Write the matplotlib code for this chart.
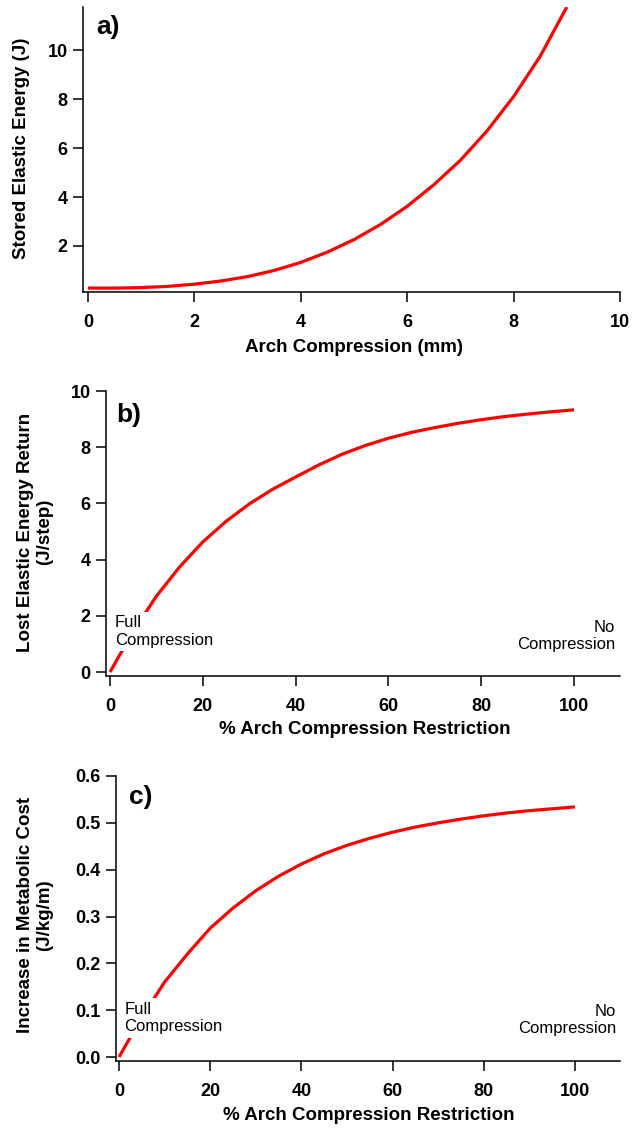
import matplotlib
matplotlib.use("Agg")
import matplotlib.pyplot as plt

plt.rcParams['font.family'] = ['Liberation Sans', 'DejaVu Sans']

# ---- data ----
comp_mm = [0, 0.5, 1, 1.5, 2, 2.5, 3, 3.5, 4, 4.5, 5, 5.5, 6, 6.5, 7, 7.5, 8, 8.5, 9]
stored_J = [0.28, 0.28, 0.30, 0.35, 0.44, 0.57, 0.75, 1.00, 1.33, 1.75, 2.26, 2.88,
            3.62, 4.50, 5.50, 6.70, 8.10, 9.75, 11.76]

restr_pct = [0, 5, 10, 15, 20, 25, 30, 35, 40, 45, 50, 55, 60, 65, 70, 75, 80, 85, 90, 95, 100]
lost_J = [0, 1.45, 2.70, 3.74, 4.63, 5.36, 5.98, 6.50, 6.94, 7.37, 7.75, 8.06, 8.32, 8.53,
          8.70, 8.85, 8.98, 9.09, 9.18, 9.26, 9.33]
metab = [0, 0.085, 0.160, 0.220, 0.275, 0.318, 0.355, 0.386, 0.412, 0.434, 0.452, 0.467,
         0.480, 0.491, 0.500, 0.508, 0.515, 0.521, 0.526, 0.530, 0.534]

a_xticks = [0, 2, 4, 6, 8, 10]
a_yticks = [2, 4, 6, 8, 10]
bc_xticks = [0, 20, 40, 60, 80, 100]
b_yticks = [0, 2, 4, 6, 8, 10]
c_yticks = [0.0, 0.1, 0.2, 0.3, 0.4, 0.5, 0.6]

W, H = 633, 1129
fig = plt.figure(figsize=(W / 100, H / 100), dpi=100)


def px_axes(l, r, t, b):
    return fig.add_axes([l / W, (H - b) / H, (r - l) / W, (b - t) / H])


def style(ax):
    for s in ['top', 'right']:
        ax.spines[s].set_visible(False)
    for s in ['left', 'bottom']:
        ax.spines[s].set_linewidth(1.1)
    ax.tick_params(axis='both', direction='out', length=7.5, width=1.1,
                   labelsize=13, colors='black')
    ax.tick_params(axis='x', pad=8)
    ax.tick_params(axis='y', pad=3.5)
    for lab in ax.get_xticklabels() + ax.get_yticklabels():
        lab.set_fontweight('bold')


RED = '#ff0000'
LW = 2.3
LBL = dict(fontsize=13.5, fontweight='bold')

# ---- panel a ----
axa = px_axes(83, 620, 7, 292)
axa.plot(comp_mm, stored_J, color=RED, lw=LW, solid_capstyle='butt')
axa.set_xlim(-0.094, 10)
axa.set_ylim(0.12, 11.76)
axa.set_xticks(a_xticks)
axa.set_yticks(a_yticks)
style(axa)
fig.text(96 / W, 1 - 27 / H, 'a)', fontsize=19, fontweight='bold', ha='left', va='center')
fig.text(354 / W, 1 - 347 / H, 'Arch Compression (mm)', ha='center', va='center', **LBL)
fig.text(22 / W, 1 - 148 / H, 'Stored Elastic Energy (J)', ha='center', va='center',
         rotation=90, **LBL)

# ---- panel b ----
axb = px_axes(106, 620, 391, 676)
axb.plot(restr_pct, lost_J, color=RED, lw=LW, solid_capstyle='butt', zorder=2)
axb.set_xlim(-0.86, 109.9)
axb.set_ylim(-0.14, 10)
axb.set_xticks(bc_xticks)
axb.set_yticks(b_yticks)
style(axb)
axb.text(1.0, 1.45, 'Full\nCompression', fontsize=12, ha='left', va='center',
         linespacing=1.2, zorder=3,
         bbox=dict(facecolor='white', edgecolor='none', pad=2.5))
axb.text(108.8, 1.28, 'No\nCompression', fontsize=12, ha='right', va='center',
         multialignment='right', linespacing=1.2, zorder=3)
fig.text(116 / W, 1 - 415 / H, 'b)', fontsize=19, fontweight='bold', ha='left', va='center')
fig.text(365 / W, 1 - 730 / H, '% Arch Compression Restriction', ha='center', va='center', **LBL)
fig.text(35 / W, 1 - 532 / H, 'Lost Elastic Energy Return\n(J/step)', ha='center',
         va='center', rotation=90, linespacing=1.15, **LBL)

# ---- panel c ----
axc = px_axes(116, 620, 776, 1061)
axc.plot(restr_pct, metab, color=RED, lw=LW, solid_capstyle='butt', zorder=2)
axc.set_xlim(-0.66, 109.9)
axc.set_ylim(-0.0085, 0.6)
axc.set_xticks(bc_xticks)
axc.set_yticks(c_yticks)
axc.set_yticklabels([f'{v:.1f}' for v in c_yticks])
style(axc)
axc.text(1.2, 0.083, 'Full\nCompression', fontsize=12, ha='left', va='center',
         linespacing=1.2, zorder=3,
         bbox=dict(facecolor='white', edgecolor='none', pad=2.5))
axc.text(109.0, 0.079, 'No\nCompression', fontsize=12, ha='right', va='center',
         multialignment='right', linespacing=1.2, zorder=3)
fig.text(129 / W, 1 - 797 / H, 'c)', fontsize=19, fontweight='bold', ha='left', va='center')
fig.text(369 / W, 1 - 1115 / H, '% Arch Compression Restriction', ha='center', va='center', **LBL)
fig.text(35 / W, 1 - 915 / H, 'Increase in Metabolic Cost\n(J/kg/m)', ha='center',
         va='center', rotation=90, linespacing=1.15, **LBL)

fig.savefig('out.png', dpi=100, facecolor='white')
